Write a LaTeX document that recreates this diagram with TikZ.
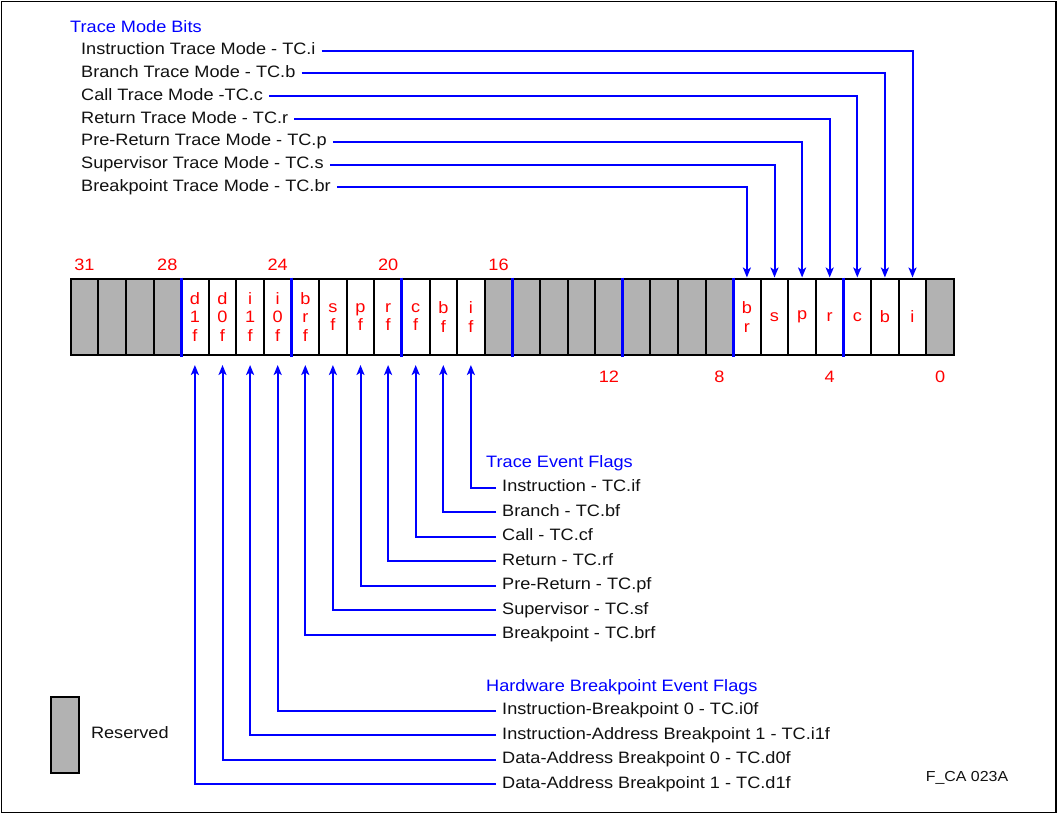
\documentclass[tikz,border=0pt]{standalone}
\usepackage{fontspec}
\setmainfont{Liberation Sans}[FakeStretch=1.1]
\usetikzlibrary{arrows.meta,positioning,calc}
\definecolor{tcblue}{HTML}{0000FF}
\definecolor{tcred}{HTML}{FF0000}
\definecolor{tcgrey}{HTML}{B2B2B2}
\definecolor{tcdark}{HTML}{111111}
\tikzset{
  cell/.style={draw=black,line width=2pt,minimum width=27.6pt,minimum height=76pt,
               inner sep=0pt,outer sep=0pt},
  rsv/.style={cell,fill=tcgrey},
  flag/.style={cell,fill=white,text=tcred,align=center,
               font=\fontsize{16.5}{18.3}\selectfont},
  num/.style={text=tcred,inner sep=0pt,font=\fontsize{16.5}{18.3}\selectfont},
  lab/.style={anchor=west,inner xsep=6pt,inner ysep=0pt,text height=12pt,text depth=3.5pt,
              text=tcdark,font=\fontsize{16.5}{18.3}\selectfont},
  hd/.style={anchor=west,inner sep=0pt,text=tcblue,font=\fontsize{16.5}{18.3}\selectfont},
  ar/.style={-{Stealth[length=10pt,width=8pt,inset=2.5pt]},line width=2pt,tcblue},
  sep/.style={line width=3pt,tcblue},
}

\begin{document}
\begin{tikzpicture}[x=1pt,y=-1pt]
  \useasboundingbox (0,0) rectangle (1058,815);
  \draw[line width=1.5pt] (1.5,1.5) rectangle (1056,812.5);
  % register cells
  \foreach \n in {0,8,9,...,16,28,29,30,31}
    {\node[rsv] (b\n) at ({70.7+(31.5-\n)*27.6},317) {};}
  \foreach \n/\t in {27/{d\\1\\f},26/{d\\0\\f},25/{i\\1\\f},24/{i\\0\\f},23/{b\\r\\f},
                     22/{s\\f},21/{p\\f},20/{r\\f},19/{c\\f},18/{b\\f},17/{i\\f},
                     7/{b\\r},6/s,5/p,4/r,3/c,2/b,1/i}
    {\node[flag] (b\n) at ({70.7+(31.5-\n)*27.6},317) {\t};}
  \foreach \n in {28,24,...,4}
    {\draw[sep] ([yshift=1.5pt]b\n.north east) -- ([yshift=-1.5pt]b\n.south east);}
  % bit numbers
  \foreach \n in {31,28,24,20,16}
    {\node[num,above=8pt of b\n] (n\n) {\n};}
  \foreach \n in {12,8,4,0}
    {\node[num,below=16pt of b\n] (n\n) {\n};}
  % trace mode bits
  \node[hd] (tmbits) at (70,26.7) {Trace Mode Bits};
  \foreach \t/\n [count=\k from 0] in
    {Instruction Trace Mode - TC.i/1,Branch Trace Mode - TC.b/2,Call Trace Mode -TC.c/3,
     Return Trace Mode - TC.r/4,Pre-Return Trace Mode - TC.p/5,
     Supervisor Trace Mode - TC.s/6,Breakpoint Trace Mode - TC.br/7}
    {\node[lab] (tm\n) at (75,{50.5+22.8*\k}) {\t};
     \draw[ar,shorten >=1.5pt] (tm\n.east) -| (b\n.north);}
  % trace event flags
  \node[hd] (evflags) at (486,463) {Trace Event Flags};
  \foreach \t/\n [count=\k from 0] in
    {Instruction - TC.if/17,Branch - TC.bf/18,Call - TC.cf/19,Return - TC.rf/20,
     Pre-Return - TC.pf/21,Supervisor - TC.sf/22,Breakpoint - TC.brf/23}
    {\node[lab] (ev\n) at (496,{487.5+24.5*\k}) {\t};
     \draw[ar,shorten >=10pt] (ev\n.west) -| (b\n.south);}
  % hardware breakpoint flags
  \node[hd] (hwflags) at (486,687) {Hardware Breakpoint Event Flags};
  \foreach \t/\n [count=\k from 0] in
    {Instruction-Breakpoint 0 - TC.i0f/24,Instruction-Address Breakpoint 1 - TC.i1f/25,
     Data-Address Breakpoint 0 - TC.d0f/26,Data-Address Breakpoint 1 - TC.d1f/27}
    {\node[lab] (hw\n) at (496,{710.5+24.5*\k}) {\t};
     \draw[ar,shorten >=10pt] (hw\n.west) -| (b\n.south);}
  % legend
  \node[rsv] (key) at (65,734.5) {};
  \node[lab,right=6pt of key,inner xsep=6pt] (keylab) {Reserved};
  \node[inner sep=0pt,text=tcdark,font=\fontsize{14.5}{16}\selectfont] (figid) at (967,778) {F\_CA 023A};
\end{tikzpicture}
\end{document}
